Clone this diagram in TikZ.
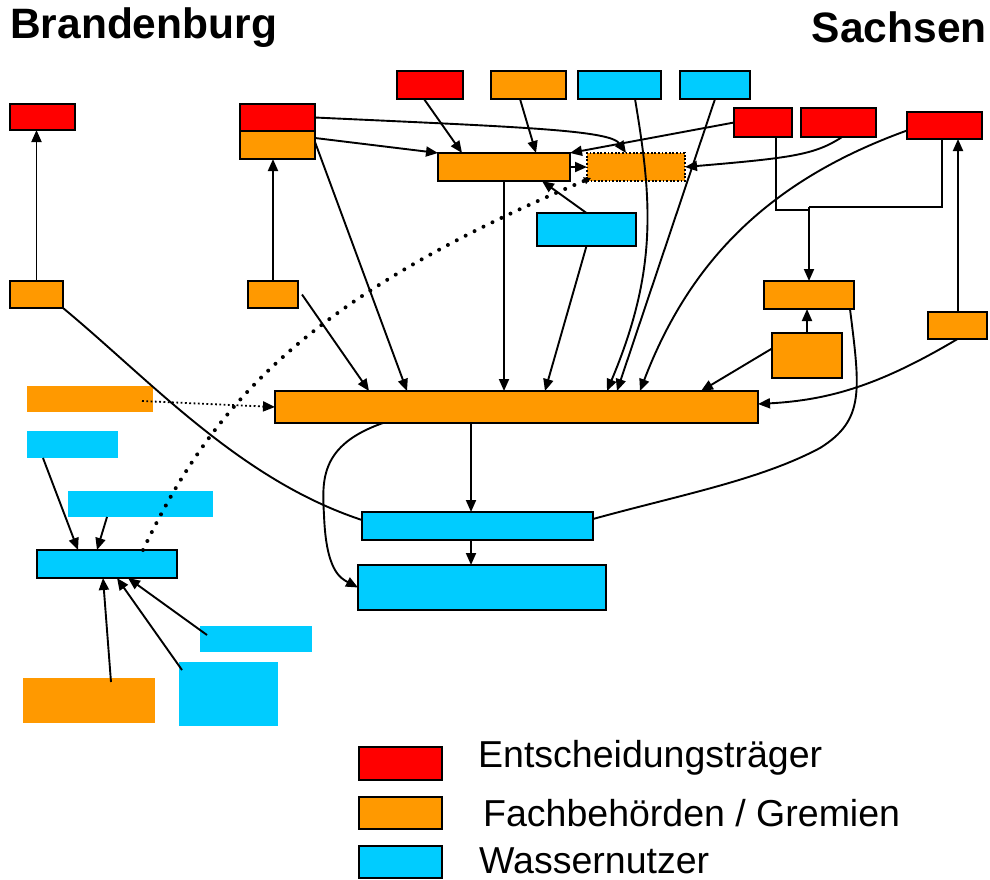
\documentclass[tikz,border=0pt]{standalone}
\usepackage{fontspec}
\setmainfont{Liberation Sans}
\usetikzlibrary{arrows.meta}
\definecolor{rt}{RGB}{255,0,0}
\definecolor{og}{RGB}{255,153,0}
\definecolor{cy}{RGB}{0,204,255}
\tikzset{
  box/.style={draw, line width=2pt, anchor=north west, inner sep=0pt, outer sep=0pt},
  flat/.style={anchor=north west, inner sep=0pt, outer sep=0pt},
  con/.style={line width=1.9pt, -{Triangle[length=12pt,width=10pt]}},
  lin/.style={line width=1.9pt},
  legtext/.style={anchor=base west, inner sep=0pt, font=\fontsize{37.5}{37.5}\selectfont},
  title/.style={inner sep=0pt, font=\fontsize{42.5}{42.5}\selectfont\bfseries}
}

\begin{document}
\begin{tikzpicture}[x=1pt, y=-1pt]
\useasboundingbox (0,0) rectangle (990,879);
\node[title, anchor=base west] (tbb) at (10,38) {Brandenburg};
\node[title, anchor=base east] (tsn) at (987,42) {Sachsen};
\node[box, fill=rt, minimum width=65, minimum height=26] (rA) at (10,104) {};
\node[box, fill=og, minimum width=53, minimum height=27] (oA) at (10,281) {};
\node[box, fill=rt, minimum width=75, minimum height=27] (rB) at (240,104) {};
\node[box, fill=og, minimum width=75, minimum height=28] (oB) at (240,131) {};
\node[box, fill=og, minimum width=50, minimum height=27] (oC) at (248,281) {};
\node[box, fill=rt, minimum width=66, minimum height=28] (rC) at (397,71) {};
\node[box, fill=og, minimum width=75, minimum height=28] (oD) at (491,71) {};
\node[box, fill=cy, minimum width=83, minimum height=28] (cA) at (578,71) {};
\node[box, fill=cy, minimum width=70, minimum height=28] (cB) at (680,71) {};
\node[box, fill=rt, minimum width=58, minimum height=29] (rD) at (734,108) {};
\node[box, fill=rt, minimum width=75, minimum height=29] (rE) at (801,108) {};
\node[box, fill=rt, minimum width=75, minimum height=27] (rF) at (907,112) {};
\node[box, fill=og, minimum width=132, minimum height=28] (oE) at (438,153) {};
\node[box, fill=og, minimum width=98, minimum height=28, line width=1.8pt, dash pattern=on 1.8pt off 1.8pt] (oF) at (587,153) {};
\node[box, fill=cy, minimum width=99, minimum height=33] (cC) at (537,213) {};
\node[box, fill=og, minimum width=90, minimum height=28] (oG) at (764,281) {};
\node[box, fill=og, minimum width=70, minimum height=45] (oH) at (772,333) {};
\node[box, fill=og, minimum width=59, minimum height=27] (oI) at (928,312) {};
\node[box, fill=og, minimum width=483, minimum height=32] (bar) at (275,391) {};
\node[box, fill=cy, minimum width=231, minimum height=28] (cD) at (362,512) {};
\node[box, fill=cy, minimum width=248, minimum height=45] (cE) at (358,565) {};
\node[box, fill=cy, minimum width=140, minimum height=28] (cF) at (37,550) {};
\node[flat, fill=og, minimum width=126, minimum height=26] (oJ) at (27,386) {};
\node[flat, fill=cy, minimum width=91, minimum height=27] (cG) at (27,431) {};
\node[flat, fill=cy, minimum width=145, minimum height=26] (cH) at (68,491) {};
\node[flat, fill=cy, minimum width=112, minimum height=26] (cI) at (200,626) {};
\node[flat, fill=cy, minimum width=99, minimum height=64] (cJ) at (179,662) {};
\node[flat, fill=og, minimum width=132, minimum height=45] (oK) at (23,678) {};
\node[box, fill=rt, minimum width=83, minimum height=33] (lr) at (359,747) {};
\node[box, fill=og, minimum width=83, minimum height=32] (lo) at (359,797) {};
\node[box, fill=cy, minimum width=83, minimum height=32] (lc) at (359,846) {};
\node[legtext] (tlr) at (478,767) {Entscheidungsträger};
\node[legtext] (tlo) at (483,826) {Fachbehörden / Gremien};
\node[legtext] (tlc) at (479,873) {Wassernutzer};
\coordinate (kn) at (809,207);
\draw[con] (oA.north) -- (oA.north |- rA.south);
\draw[con] (oC.north) -- (oC.north |- oB.south);
\draw[con] (rB.east) .. controls (520,127) and (610,130) .. ([xshift=39pt]oF.north west);
\draw[con] ([yshift=7pt]oB.east) -- (oE.north west);
\draw[con] ([yshift=3pt]oB.east) -- ([xshift=132pt]bar.north west);
\draw[con] ([xshift=4pt]oC.east) -- ([xshift=94pt]bar.north west);
\draw[con] ([xshift=27pt]rC.south west) -- ([xshift=24pt]oE.north west);
\draw[con] ([xshift=29pt]oD.south west) -- ([xshift=98pt]oE.north west);
\draw[con] ([xshift=57pt]cA.south west) .. controls (652,200) and (658,270) .. ([xshift=332pt]bar.north west);
\draw[con] ([xshift=35pt]cB.south west) -- ([xshift=342pt]bar.north west);
\draw[con] (rD.west) -- (oE.north east);
\draw[con] ([xshift=41pt]rE.south west) .. controls (815,155) and (790,158) .. (oF.east);
\draw[con] ([yshift=-5pt]rF.west) .. controls (770,180) and (690,260) .. ([xshift=365pt]bar.north west);
\draw[lin] ([xshift=42pt]rD.south west) |- ([yshift=-3pt]kn);
\draw[lin] ([xshift=35pt]rF.south west) |- (kn);
\draw[con] (kn) -- (oG.north);
\draw[con] (oH.north) -- (oH.north |- oG.south);
\draw[con] ([xshift=30pt]oI.north west) -- ([xshift=30pt]oI.north west |- rF.south);
\draw[con] ([yshift=7pt]oH.west) -- ([xshift=426pt]bar.north west);
\draw[con] (oI.south) .. controls (880,385) and (830,400) .. ([yshift=3pt]bar.east);
\draw[lin] ([xshift=-4pt]oG.south east) .. controls (860,390) and (865,420) .. (820,448) .. controls (760,480) and (680,495) .. ([yshift=7pt]cD.east);
\draw[lin] (oA.south east) .. controls (150,380) and (240,480) .. ([yshift=6pt]cD.west);
\draw[con] (oE.south) -- (oE.south |- bar.north);
\draw[con] (cC.north) -- ([xshift=104pt]oE.south west);
\draw[con] (cC.south) -- ([xshift=270pt]bar.north west);
\draw[con] (oE.east) -- (oF.west);
\draw[line width=4pt, dash pattern=on 0pt off 10pt, line cap=round, -{Triangle[length=7pt,width=7pt]}] ([xshift=106pt]cF.north west) .. controls (210,410) and (300,300) .. ([xshift=4pt,yshift=3pt]oF.south west);
\draw[line width=1.8pt, dash pattern=on 1.8pt off 2.5pt, -{Triangle[length=12pt,width=10pt]}] ([xshift=-11pt,yshift=-2pt]oJ.east) -- (bar.west);
\draw[con] ([xshift=16pt]cG.south west) -- ([xshift=41pt]cF.north west);
\draw[con] ([xshift=39pt]cH.south west) -- ([xshift=60pt]cF.north west);
\draw[con] ([xshift=88pt,yshift=-4pt]oK.north west) -- ([xshift=66pt]cF.south west);
\draw[con] ([xshift=3pt,yshift=-8pt]cJ.north west) -- ([xshift=80pt]cF.south west);
\draw[con] ([xshift=7pt,yshift=-9pt]cI.north west) -- ([xshift=91pt]cF.south west);
\draw[con] ([xshift=196pt]bar.south west) -- ([xshift=109pt]cD.north west);
\draw[con] ([xshift=109pt]cD.south west) -- ([xshift=113pt]cE.north west);
\draw[con] ([xshift=108pt]bar.south west) .. controls (320,445) and (322,480) .. (324,515) .. controls (326,570) and (340,578) .. (cE.west);
\end{tikzpicture}
\end{document}
